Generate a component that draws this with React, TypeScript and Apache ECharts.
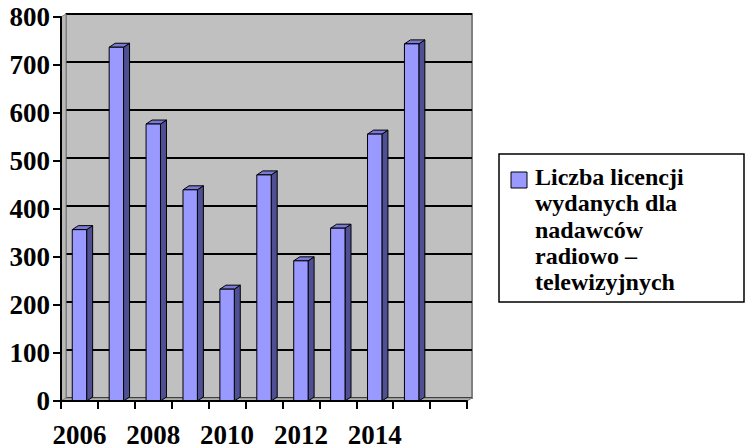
import React, { useEffect, useRef } from "react";
import * as echarts from "echarts";

const categories = ["2006", "2007", "2008", "2009", "2010", "2011", "2012", "2013", "2014", "2015", ""];
const licences = [357, 737, 577, 440, 233, 471, 292, 360, 556, 744];
const yTicks = [0, 100, 200, 300, 400, 500, 600, 700, 800];
const seriesName = "Liczba licencji\nwydanych dla\nnadawców\nradiowo –\ntelewizyjnych";

const FONT = "Liberation Serif";
const DX = 6;
const DY = -4;

export default function App() {
  const ref = useRef<HTMLDivElement>(null);
  useEffect(() => {
    if (!ref.current) return;
    const chart = echarts.init(ref.current, null, { renderer: "svg" });
    const yMax = yTicks[yTicks.length - 1];
    const yInt = yTicks[1] - yTicks[0];
    chart.setOption({
      animation: false,
      backgroundColor: "#ffffff",
      textStyle: { fontFamily: FONT },
      grid: [
        { left: 61, top: 17, width: 406, height: 384, show: false },
        {
          left: 66, top: 14, width: 406, height: 384, show: true,
          backgroundColor: "#c0c0c0", borderColor: "#808080", borderWidth: 2,
        },
      ],
      xAxis: [
        {
          type: "category", gridIndex: 0, data: categories, z: 6,
          axisLine: { show: true, lineStyle: { color: "#000", width: 2 } },
          axisTick: { show: true, alignWithLabel: false, interval: 0, length: 8, lineStyle: { color: "#000", width: 2 } },
          axisLabel: {
            interval: 1, margin: 20, color: "#000", fontFamily: FONT,
            fontWeight: "bold", fontSize: 27,
          },
          splitLine: { show: false },
        },
        {
          type: "category", gridIndex: 1, data: categories,
          axisLine: { show: false }, axisTick: { show: false }, axisLabel: { show: false },
          splitLine: { show: false },
        },
      ],
      yAxis: [
        {
          type: "value", gridIndex: 0, min: 0, max: yMax, interval: yInt, z: 6,
          axisLine: { show: true, lineStyle: { color: "#000", width: 2 } },
          axisTick: { show: true, length: 8, lineStyle: { color: "#000", width: 2 } },
          axisLabel: {
            margin: 11, color: "#000", fontFamily: FONT, fontWeight: "bold", fontSize: 27,
          },
          splitLine: { show: false },
        },
        {
          type: "value", gridIndex: 1, min: 0, max: yMax, interval: yInt,
          axisLine: { show: false }, axisTick: { show: false }, axisLabel: { show: false },
          splitLine: { show: true, lineStyle: { color: "#000", width: 2 } },
        },
      ],
      graphic: [
        {
          type: "polygon", z: 1,
          shape: { points: [[61, 17], [66, 14], [66, 398], [61, 401]] },
          style: { fill: "#b8b8b8", stroke: "#808080", lineWidth: 1 },
        },
        {
          type: "polygon", z: 1,
          shape: { points: [[61, 401], [66, 398], [472, 398], [467, 401]] },
          style: { fill: "#b0b0b0", stroke: "#808080", lineWidth: 1 },
        },
        {
          type: "rect", x: 499, y: 154,
          shape: { width: 245, height: 148 },
          style: { fill: "#fff", stroke: "#000", lineWidth: 1.5 },
        },
        {
          type: "rect", x: 511, y: 172,
          shape: { width: 16, height: 16 },
          style: { fill: "#9999ff", stroke: "#000", lineWidth: 1 },
        },
        {
          type: "text", x: 535, y: 164,
          style: {
            text: seriesName, fill: "#000", fontFamily: FONT, fontWeight: "bold", fontSize: 24,
            lineHeight: 26.3, verticalAlign: "top", align: "left",
          },
        },
      ],
      series: [
        {
          type: "custom", name: seriesName, xAxisIndex: 0, yAxisIndex: 0, z: 3,
          data: licences.map((v, i) => [i, v]),
          encode: { x: 0, y: 1 },
          renderItem: (params: any, api: any) => {
            const idx = api.value(0);
            const v = api.value(1);
            const top = api.coord([idx, v]);
            const base = api.coord([idx, 0]);
            const w = api.size([1, 0])[0] * 0.39;
            const x0 = top[0] - w / 2;
            const y0 = top[1];
            const y1 = base[1];
            return {
              type: "group",
              children: [
                {
                  type: "polygon",
                  shape: { points: [[x0 + w, y0], [x0 + w + DX, y0 + DY], [x0 + w + DX, y1 + DY], [x0 + w, y1]] },
                  style: { fill: "#4f4f94", stroke: "#000", lineWidth: 1 },
                },
                {
                  type: "polygon",
                  shape: { points: [[x0, y0], [x0 + DX, y0 + DY], [x0 + w + DX, y0 + DY], [x0 + w, y0]] },
                  style: { fill: "#7a7ad6", stroke: "#000", lineWidth: 1 },
                },
                {
                  type: "rect",
                  shape: { x: x0, y: y0, width: w, height: y1 - y0 },
                  style: { fill: "#9999ff", stroke: "#000", lineWidth: 1 },
                },
              ],
            };
          },
        },
      ],
    });
    return () => chart.dispose();
  }, []);
  return <div ref={ref} style={{ width: 745, height: 448, position: "absolute", left: 0, top: 0 }} />;
}
